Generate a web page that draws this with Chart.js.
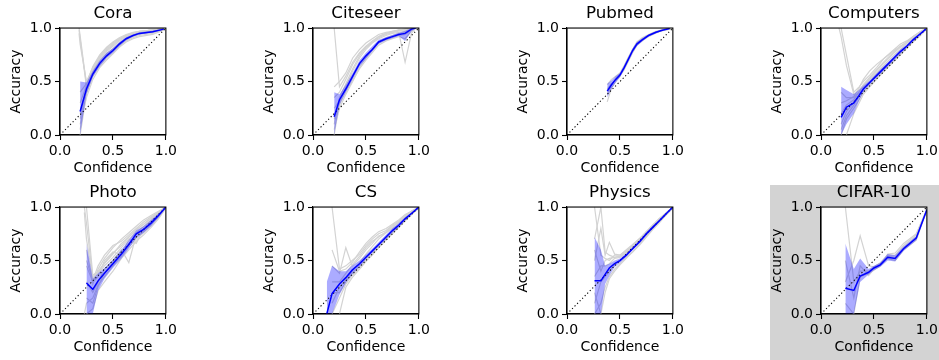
<!DOCTYPE html>
<html><head><meta charset="utf-8">
<script src="https://cdn.jsdelivr.net/npm/chart.js@4"></script>
<style>
body{margin:0;background:#fff;width:939px;height:360px;position:relative;overflow:hidden}
canvas.p{position:absolute}
#hl{position:absolute;left:770px;top:185px;width:169px;height:175px;background:#d3d3d3}
</style></head><body>
<div id="hl"></div>
<script>
// ---------- Cora ----------
const coraX    = [0.19,0.25,0.31,0.375,0.44,0.5,0.56,0.625,0.69,0.75,0.875,0.98];
const coraMean = [0.22,0.43,0.57,0.67,0.74,0.79,0.85,0.90,0.93,0.95,0.965,0.99];
const coraLo   = [0.0,0.38,0.54,0.64,0.72,0.77,0.83,0.885,0.92,0.94,0.955,0.985];
const coraHi   = [0.50,0.49,0.60,0.70,0.77,0.81,0.87,0.915,0.94,0.96,0.975,0.995];
const coraGreyX = [0.18,0.19,0.25,0.31,0.375,0.44,0.5,0.56,0.625,0.69,0.75,0.875,0.98];
const coraGrey = [
  [1.00,0.93,0.47,0.61,0.71,0.78,0.83,0.88,0.92,0.945,0.96,0.975,0.99],
  [0.98,0.90,0.45,0.58,0.69,0.76,0.81,0.86,0.91,0.94,0.955,0.97,0.99],
  [null,0.05,0.40,0.55,0.66,0.73,0.79,0.85,0.89,0.93,0.95,0.96,0.99],
  [null,0.20,0.44,0.60,0.72,0.79,0.84,0.89,0.925,0.95,0.97,0.98,0.995],
  [null,0.30,0.46,0.62,0.73,0.80,0.85,0.90,0.93,0.955,0.965,0.985,0.99],
  [null,0.0,0.38,0.56,0.65,0.71,0.77,0.83,0.88,0.91,0.93,0.95,0.985],
  [null,0.15,0.42,0.59,0.68,0.75,0.80,0.84,0.88,0.92,0.94,0.97,0.99],
  [0.95,0.85,0.50,0.63,0.74,0.81,0.86,0.90,0.93,0.955,0.97,0.98,0.995],
  [null,0.40,0.48,0.64,0.75,0.82,0.87,0.91,0.94,0.96,0.97,0.98,0.99],
  [null,0.10,0.35,0.52,0.63,0.70,0.76,0.82,0.87,0.90,0.92,0.94,0.98]
];
// ---------- Citeseer ----------
const citeX    = [0.2,0.25,0.31,0.375,0.44,0.5,0.56,0.62,0.69,0.75,0.81,0.87,0.93,0.97];
const citeMean = [0.17,0.33,0.43,0.55,0.67,0.74,0.80,0.87,0.90,0.92,0.94,0.95,0.99,1.0];
const citeLo   = [0.0,0.28,0.40,0.52,0.64,0.71,0.78,0.85,0.885,0.905,0.925,0.88,0.97,0.995];
const citeHi   = [0.40,0.38,0.47,0.58,0.70,0.77,0.83,0.89,0.915,0.935,0.955,0.975,1.0,1.0];
const citeGreyX = citeX;
const citeGrey = [
  [1.0,0.45,0.55,0.68,0.77,0.83,0.88,0.92,0.95,0.97,0.98,0.99,1.0,1.0],
  [0.0,0.30,0.45,0.60,0.72,0.80,0.86,0.90,0.93,0.95,0.96,0.68,0.95,1.0],
  [0.10,0.35,0.48,0.62,0.74,0.82,0.87,0.91,0.94,0.96,0.97,0.97,0.99,1.0],
  [0.25,0.32,0.42,0.54,0.66,0.73,0.79,0.86,0.89,0.91,0.93,0.94,0.98,1.0],
  [0.35,0.40,0.52,0.66,0.76,0.82,0.87,0.92,0.95,0.96,0.98,0.98,1.0,1.0],
  [0.15,0.28,0.40,0.51,0.62,0.70,0.77,0.84,0.88,0.90,0.92,0.90,0.97,1.0],
  [0.45,0.50,0.58,0.72,0.80,0.86,0.90,0.94,0.96,0.97,0.98,0.99,1.0,1.0],
  [0.05,0.25,0.38,0.50,0.63,0.72,0.80,0.87,0.91,0.93,0.95,0.96,0.99,1.0]
];
// ---------- Pubmed ----------
const pubX    = [0.38,0.42,0.46,0.5,0.54,0.58,0.62,0.66,0.71,0.77,0.84,0.9,0.97];
const pubMean = [0.41,0.47,0.52,0.56,0.63,0.71,0.79,0.85,0.89,0.93,0.96,0.98,0.995];
const pubLo   = [0.35,0.43,0.49,0.54,0.61,0.69,0.77,0.83,0.875,0.92,0.95,0.975,0.99];
const pubHi   = [0.48,0.51,0.55,0.58,0.65,0.73,0.81,0.87,0.905,0.94,0.97,0.985,1.0];
const pubGreyX = pubX;
const pubGrey = [
  [0.31,0.44,0.50,0.55,0.62,0.70,0.78,0.84,0.88,0.92,0.955,0.975,0.99],
  [0.47,0.52,0.55,0.58,0.65,0.73,0.80,0.86,0.90,0.935,0.965,0.985,1.0],
  [0.38,0.46,0.53,0.57,0.64,0.72,0.80,0.87,0.91,0.94,0.97,0.98,1.0],
  [0.43,0.48,0.51,0.55,0.61,0.69,0.77,0.84,0.88,0.925,0.96,0.975,0.99]
];
// ---------- Computers ----------
const compX    = [0.19,0.24,0.31,0.36,0.40,0.46,0.525,0.6,0.68,0.75,0.81,0.87,0.93,0.99];
const compMean = [0.165,0.26,0.30,0.37,0.43,0.49,0.555,0.63,0.71,0.78,0.83,0.89,0.94,0.99];
const compLo   = [0.0,0.10,0.20,0.32,0.40,0.47,0.535,0.61,0.69,0.76,0.815,0.875,0.93,0.985];
const compHi   = [0.45,0.42,0.38,0.42,0.46,0.51,0.575,0.65,0.73,0.80,0.845,0.905,0.95,0.995];
const compGreyX = [0.17,0.19,0.24,0.31,0.36,0.40,0.46,0.525,0.6,0.68,0.75,0.81,0.87,0.93,0.99];
const compGrey = [
  [1.0,0.92,0.65,0.38,0.42,0.47,0.53,0.60,0.68,0.76,0.82,0.86,0.91,0.95,0.99],
  [null,1.0,0.75,0.40,0.45,0.50,0.56,0.63,0.72,0.79,0.85,0.88,0.92,0.96,0.99],
  [null,0.0,0.15,0.25,0.33,0.40,0.46,0.53,0.61,0.69,0.76,0.82,0.88,0.93,0.985],
  [null,null,0.0,0.20,0.30,0.38,0.45,0.52,0.60,0.68,0.75,0.81,0.87,0.92,0.98],
  [null,0.40,0.35,0.35,0.40,0.46,0.52,0.58,0.66,0.74,0.80,0.86,0.90,0.95,0.99],
  [null,0.10,0.22,0.30,0.38,0.44,0.50,0.57,0.64,0.71,0.78,0.84,0.89,0.94,0.99],
  [null,0.30,0.32,0.36,0.44,0.52,0.60,0.66,0.72,0.78,0.83,0.87,0.91,0.96,0.995],
  [null,0.20,0.28,0.33,0.40,0.47,0.54,0.61,0.69,0.77,0.83,0.87,0.92,0.96,0.995],
  [null,0.05,0.18,0.28,0.36,0.42,0.48,0.55,0.62,0.70,0.77,0.83,0.88,0.94,0.99]
];
// ---------- Photo ----------
const photoX    = [0.25,0.31,0.36,0.42,0.5,0.58,0.65,0.72,0.79,0.86,0.93,1.0];
const photoMean = [0.29,0.23,0.31,0.38,0.47,0.56,0.65,0.75,0.79,0.85,0.92,1.0];
const photoLo   = [0.0,0.0,0.22,0.33,0.43,0.52,0.61,0.71,0.76,0.82,0.90,0.99];
const photoHi   = [0.66,0.33,0.38,0.43,0.51,0.60,0.69,0.78,0.82,0.88,0.94,1.0];
const photoGreyX = [0.23,0.25,0.31,0.36,0.42,0.5,0.58,0.65,0.72,0.79,0.86,0.93,1.0];
const photoGrey = [
  [1.0,0.85,0.33,0.38,0.45,0.53,0.62,0.70,0.76,0.82,0.88,0.94,1.0],
  [null,1.0,0.36,0.40,0.47,0.56,0.66,0.72,0.79,0.84,0.90,0.95,1.0],
  [0.0,0.10,0.15,0.27,0.35,0.45,0.54,0.63,0.70,0.76,0.83,0.90,0.99],
  [null,0.0,0.05,0.22,0.30,0.40,0.52,0.60,0.68,0.74,0.81,0.89,0.99],
  [null,0.45,0.30,0.35,0.50,0.58,0.55,0.70,0.66,0.80,0.86,0.93,1.0],
  [null,0.30,0.20,0.30,0.42,0.50,0.60,0.48,0.74,0.78,0.87,0.92,0.99],
  [null,0.60,0.28,0.42,0.52,0.62,0.70,0.76,0.82,0.88,0.92,0.96,1.0],
  [0.95,0.70,0.34,0.39,0.48,0.57,0.64,0.72,0.78,0.84,0.89,0.95,1.0],
  [null,0.15,0.10,0.26,0.38,0.48,0.58,0.66,0.72,0.77,0.84,0.91,0.99],
  [null,0.50,0.32,0.45,0.55,0.64,0.68,0.74,0.80,0.86,0.91,0.95,1.0]
];
// ---------- CS ----------
const csX    = [0.13,0.18,0.25,0.31,0.37,0.44,0.5,0.56,0.62,0.69,0.75,0.81,0.87,0.93,1.0];
const csMean = [0.0,0.19,0.28,0.34,0.41,0.47,0.53,0.59,0.65,0.72,0.78,0.83,0.89,0.94,1.0];
const csLo   = [0.0,0.0,0.18,0.29,0.37,0.44,0.51,0.57,0.63,0.70,0.76,0.81,0.875,0.93,0.995];
const csHi   = [0.30,0.45,0.40,0.40,0.45,0.50,0.555,0.61,0.67,0.74,0.80,0.85,0.905,0.95,1.0];
const csGreyX = csX;
const csGrey = [
  [null,1.0,0.42,0.45,0.50,0.56,0.64,0.70,0.75,0.78,0.83,0.87,0.92,0.96,1.0],
  [null,0.45,0.38,0.62,0.45,0.52,0.60,0.66,0.73,0.76,0.81,0.86,0.91,0.95,1.0],
  [null,0.0,0.15,0.28,0.36,0.43,0.50,0.56,0.62,0.69,0.75,0.81,0.87,0.93,0.99],
  [null,0.10,0.25,0.32,0.40,0.48,0.56,0.63,0.70,0.76,0.80,0.84,0.90,0.95,1.0],
  [null,0.30,0.30,0.38,0.46,0.54,0.62,0.68,0.72,0.77,0.82,0.86,0.91,0.96,1.0],
  [null,null,0.0,0.25,0.34,0.42,0.49,0.55,0.62,0.70,0.76,0.82,0.88,0.93,0.99],
  [null,0.60,0.40,0.42,0.48,0.58,0.66,0.72,0.77,0.80,0.84,0.88,0.93,0.96,1.0],
  [null,0.20,0.20,0.30,0.38,0.45,0.52,0.58,0.64,0.71,0.77,0.82,0.88,0.94,1.0]
];
// ---------- Physics ----------
const physX    = [0.26,0.32,0.36,0.40,0.45,0.5,0.56,0.62,0.69,0.75,0.81,0.87,0.93,1.0];
const physMean = [0.31,0.31,0.37,0.43,0.47,0.50,0.55,0.61,0.68,0.75,0.81,0.87,0.93,1.0];
const physLo   = [0.0,0.0,0.28,0.36,0.44,0.48,0.535,0.595,0.665,0.735,0.795,0.86,0.92,0.995];
const physHi   = [0.72,0.60,0.45,0.47,0.50,0.52,0.565,0.625,0.695,0.765,0.825,0.88,0.94,1.0];
const physGreyX = physX;
const physGrey = [
  [1.0,0.55,0.52,0.50,0.55,0.55,0.60,0.65,0.71,0.77,0.83,0.89,0.94,1.0],
  [0.70,1.0,0.58,0.55,0.53,0.54,0.58,0.63,0.70,0.77,0.83,0.88,0.94,1.0],
  [0.50,0.80,0.55,0.67,0.56,0.55,0.59,0.64,0.70,0.76,0.82,0.88,0.93,1.0],
  [0.0,0.10,0.25,0.35,0.42,0.47,0.53,0.58,0.65,0.72,0.79,0.85,0.92,0.99],
  [0.20,0.0,0.20,0.33,0.40,0.46,0.52,0.58,0.66,0.73,0.80,0.86,0.92,0.99],
  [0.35,0.45,0.45,0.47,0.52,0.53,0.57,0.62,0.69,0.75,0.81,0.87,0.93,1.0],
  [0.60,0.40,0.50,0.52,0.53,0.54,0.58,0.64,0.71,0.77,0.83,0.89,0.94,1.0],
  [0.10,0.30,0.35,0.40,0.46,0.50,0.55,0.61,0.68,0.75,0.81,0.87,0.93,1.0]
];
// ---------- CIFAR-10 ----------
const cifarX    = [0.23,0.31,0.37,0.45,0.50,0.56,0.63,0.70,0.78,0.90,1.0];
const cifarMean = [0.24,0.22,0.355,0.39,0.43,0.46,0.53,0.52,0.61,0.71,0.975];
const cifarLo   = [0.0,0.0,0.30,0.37,0.41,0.44,0.50,0.49,0.59,0.69,0.96];
const cifarHi   = [0.66,0.42,0.52,0.42,0.45,0.48,0.56,0.55,0.63,0.73,0.99];
const cifarGreyX = cifarX;
const cifarGrey = [
  [1.0,0.30,0.40,0.40,0.44,0.48,0.55,0.55,0.64,0.74,0.98],
  [0.30,0.50,0.73,0.45,0.44,0.47,0.54,0.53,0.62,0.72,0.97],
  [0.10,0.0,0.35,0.38,0.41,0.45,0.52,0.50,0.60,0.69,0.97],
  [0.50,0.15,0.45,0.36,0.42,0.46,0.56,0.57,0.66,0.75,0.98]
];
const titles = ['Cora','Citeseer','Pubmed','Computers','Photo','CS','Physics','CIFAR-10'];
const tickVals = [0, 0.5, 1.0];

const panels = [
  {mx:coraX,my:coraMean,lo:coraLo,hi:coraHi,gx:coraGreyX,g:coraGrey},
  {mx:citeX,my:citeMean,lo:citeLo,hi:citeHi,gx:citeGreyX,g:citeGrey},
  {mx:pubX,my:pubMean,lo:pubLo,hi:pubHi,gx:pubGreyX,g:pubGrey},
  {mx:compX,my:compMean,lo:compLo,hi:compHi,gx:compGreyX,g:compGrey},
  {mx:photoX,my:photoMean,lo:photoLo,hi:photoHi,gx:photoGreyX,g:photoGrey},
  {mx:csX,my:csMean,lo:csLo,hi:csHi,gx:csGreyX,g:csGrey},
  {mx:physX,my:physMean,lo:physLo,hi:physHi,gx:physGreyX,g:physGrey},
  {mx:cifarX,my:cifarMean,lo:cifarLo,hi:cifarHi,gx:cifarGreyX,g:cifarGrey}
];

const colLeft=[60,313,567,821], rowTop=[28,207];
const PW=107, PH=107, L=60, T=28, B=45, R=13;
const FONT='DejaVu Sans';
const pts=(xs,ys)=>xs.map((x,k)=>({x:x,y:ys[k]}));

const frame={id:'frame',
  beforeDraw(ch,a,o){ if(o.white){const c=ch.chartArea;ch.ctx.save();ch.ctx.fillStyle='#fff';ch.ctx.fillRect(c.left,c.top,c.right-c.left,c.bottom-c.top);ch.ctx.restore();}},
  afterDraw(ch){const c=ch.chartArea,x=ch.ctx;x.save();x.strokeStyle='#000';x.lineWidth=1.1;x.strokeRect(c.left,c.top,c.right-c.left,c.bottom-c.top);x.restore();}
};

panels.forEach((p,i)=>{
  const c=document.createElement('canvas');
  c.className='p';
  const W=L+PW+R, H=T+PH+B;
  c.width=W;c.height=H;c.style.width=W+'px';c.style.height=H+'px';
  c.style.left=(colLeft[i%4]-L)+'px';
  c.style.top=(rowTop[Math.floor(i/4)]-T)+'px';
  document.body.appendChild(c);
  const ds=[];
  ds.push({data:pts(p.mx,p.my),borderColor:'#0000ff',borderWidth:1.5,order:0,fill:false});
  ds.push({data:[{x:0,y:0},{x:1,y:1}],borderColor:'#000',borderWidth:1.1,borderDash:[1.2,2.4],order:1,fill:false});
  ds.push({data:pts(p.mx,p.hi),borderColor:'rgba(0,0,0,0)',borderWidth:0,backgroundColor:'rgba(0,0,255,0.33)',fill:'+1',order:2});
  ds.push({data:pts(p.mx,p.lo),borderColor:'rgba(0,0,0,0)',borderWidth:0,fill:false,order:2});
  p.g.forEach(r=>ds.push({data:pts(p.gx,r),borderColor:'#d3d3d3',borderWidth:1.2,fill:false,order:3,spanGaps:false}));
  const axisFont={family:FONT,size:14};
  new Chart(c,{type:'line',data:{datasets:ds},
    options:{responsive:false,animation:false,devicePixelRatio:1,
      layout:{padding:{left:0,right:R,top:0,bottom:0}},
      elements:{point:{radius:0},line:{tension:0}},
      plugins:{legend:{display:false},tooltip:{enabled:false},
        frame:{white:i===7},
        title:{display:true,fullSize:false,text:titles[i],color:'#000',font:{family:FONT,size:16.7,weight:'normal',lineHeight:1.2},padding:{top:4,bottom:4}}},
      scales:{
        x:{type:'linear',min:0,max:1,
          afterBuildTicks:s=>{s.ticks=tickVals.map(v=>({value:v}));},
          ticks:{color:'#000',font:axisFont,padding:3,maxRotation:0,autoSkip:false,callback:v=>Number(v).toFixed(1)},
          grid:{drawOnChartArea:false,drawTicks:true,tickLength:5,color:'#000',tickWidth:1.1},
          border:{display:true,color:'#000',width:1.1},
          title:{display:true,text:'Confidence',color:'#000',font:axisFont,padding:{top:0,bottom:3}},
          afterFit:s=>{s.height=B;}},
        y:{type:'linear',min:0,max:1,
          afterBuildTicks:s=>{s.ticks=tickVals.map(v=>({value:v}));},
          ticks:{color:'#000',font:axisFont,padding:3,autoSkip:false,callback:v=>Number(v).toFixed(1)},
          grid:{drawOnChartArea:false,drawTicks:true,tickLength:5,color:'#000',tickWidth:1.1},
          border:{display:true,color:'#000',width:1.1},
          title:{display:true,text:'Accuracy',color:'#000',font:axisFont,padding:{top:7.5,bottom:0}},
          afterFit:s=>{s.width=L;}}
      }},
    plugins:[frame]});
});
</script>
</body></html>
